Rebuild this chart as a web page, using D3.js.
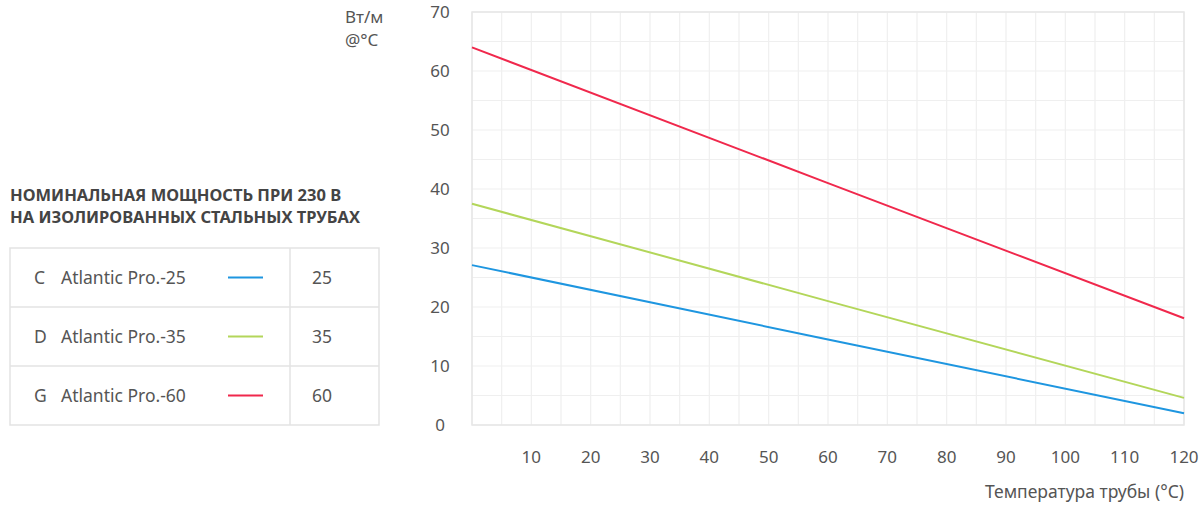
<!DOCTYPE html>
<html>
<head>
<meta charset="utf-8">
<script src="https://cdn.jsdelivr.net/npm/d3@7"></script>
<style>
  body { margin: 0; background: #fff; }
  svg { display: block; font-family: "Noto Sans", sans-serif; }
</style>
</head>
<body>
<svg id="chart" width="1200" height="513" viewBox="0 0 1200 513"></svg>
<script>
// data
const temps = [0, 60, 120];
const pro25 = [27.1, 14.5, 2.0];
const pro35 = [37.5, 21.0, 4.6];
const pro60 = [64.0, 41.0, 18.1];
const codes = ["C", "D", "G"];
const names = ["Atlantic Pro.-25", "Atlantic Pro.-35", "Atlantic Pro.-60"];
const nominal = ["25", "35", "60"];
const colors = ["#1e96e0", "#b3d65a", "#f0284c"];
const xTicks = [10, 20, 30, 40, 50, 60, 70, 80, 90, 100, 110, 120];
const yTicks = [0, 10, 20, 30, 40, 50, 60, 70];

const svg = d3.select("#chart");
const plotLeft = 472, plotRight = 1184, plotTop = 12, plotBottom = 425;

const x = d3.scaleLinear().domain([0, 120]).range([plotLeft, plotRight]);
const y = d3.scaleLinear().domain([0, 70]).range([plotBottom, plotTop]);

// grid every 5 units
const grid = svg.append("g").attr("stroke", "#efefef").attr("stroke-width", 1.2);
grid.selectAll(".vx").data(d3.range(0, 121, 5)).enter().append("line")
    .attr("x1", d => x(d)).attr("x2", d => x(d)).attr("y1", plotTop).attr("y2", plotBottom);
grid.selectAll(".hy").data(d3.range(0, 71, 5)).enter().append("line")
    .attr("x1", plotLeft).attr("x2", plotRight).attr("y1", d => y(d)).attr("y2", d => y(d));
svg.append("rect").attr("x", plotLeft).attr("y", plotTop)
    .attr("width", plotRight - plotLeft).attr("height", plotBottom - plotTop)
    .attr("fill", "none").attr("stroke", "#e6e6e6").attr("stroke-width", 1.5);

// y tick labels
svg.append("g").selectAll("text").data(yTicks).enter().append("text")
    .attr("x", 440).attr("y", d => y(d)).attr("dy", "0.35em")
    .attr("text-anchor", "middle").attr("fill", "#555").attr("font-size", 17)
    .text(d => d);

// x tick labels
svg.append("g").selectAll("text").data(xTicks).enter().append("text")
    .attr("x", d => x(d)).attr("y", 457).attr("dy", "0.35em")
    .attr("text-anchor", "middle").attr("fill", "#555").attr("font-size", 17)
    .text(d => d);

svg.append("text").attr("x", plotRight).attr("y", 492).attr("dy", "0.35em")
    .attr("text-anchor", "end").attr("fill", "#555").attr("font-size", 17.5)
    .text("Температура трубы (°C)");

svg.append("text").attr("x", 345).attr("y", 17).attr("dy", "0.35em")
    .attr("fill", "#555").attr("font-size", 17).text("Вт/м");
svg.append("text").attr("x", 345).attr("y", 40).attr("dy", "0.35em")
    .attr("fill", "#555").attr("font-size", 17).text("@°C");

// lines
const series = [pro25, pro35, pro60];
const line = d3.line().x((d, i) => x(temps[i])).y(d => y(d));
svg.append("g").selectAll("path").data(series).enter().append("path")
    .attr("d", d => line(d)).attr("fill", "none")
    .attr("stroke", (d, i) => colors[i]).attr("stroke-width", 2);

// legend title
const title = svg.append("text").attr("x", 10).attr("fill", "#444")
    .attr("font-size", 16.5).attr("font-weight", "bold");
title.append("tspan").attr("x", 10).attr("y", 201).text("НОМИНАЛЬНАЯ МОЩНОСТЬ ПРИ 230 В");
title.append("tspan").attr("x", 10).attr("y", 223).text("НА ИЗОЛИРОВАННЫХ СТАЛЬНЫХ ТРУБАХ");

// legend table
const tx = 10, tw = 369, ty = 248, rowH = 59, colX = 290;
svg.append("rect").attr("x", tx).attr("y", ty).attr("width", tw).attr("height", rowH * 3)
    .attr("fill", "none").attr("stroke", "#e3e3e3").attr("stroke-width", 1.5);
svg.append("line").attr("x1", colX).attr("x2", colX).attr("y1", ty).attr("y2", ty + rowH * 3)
    .attr("stroke", "#e3e3e3").attr("stroke-width", 1.5);
const rows = svg.append("g").selectAll("g").data(names).enter().append("g")
    .attr("transform", (d, i) => `translate(0,${ty + i * rowH})`);
rows.filter((d, i) => i > 0).append("line")
    .attr("x1", tx).attr("x2", tx + tw).attr("y1", 0).attr("y2", 0)
    .attr("stroke", "#e3e3e3").attr("stroke-width", 1.5);
rows.append("text").attr("x", 34).attr("y", rowH / 2).attr("dy", "0.35em")
    .attr("fill", "#555").attr("font-size", 17.5).text((d, i) => codes[i]);
rows.append("text").attr("x", 61).attr("y", rowH / 2).attr("dy", "0.35em")
    .attr("fill", "#555").attr("font-size", 17.5).text(d => d);
rows.append("line").attr("x1", 228).attr("x2", 263).attr("y1", rowH / 2).attr("y2", rowH / 2)
    .attr("stroke", (d, i) => colors[i]).attr("stroke-width", 2);
rows.append("text").attr("x", 312).attr("y", rowH / 2).attr("dy", "0.35em")
    .attr("fill", "#555").attr("font-size", 17.5).text((d, i) => nominal[i]);
</script>
</body>
</html>
